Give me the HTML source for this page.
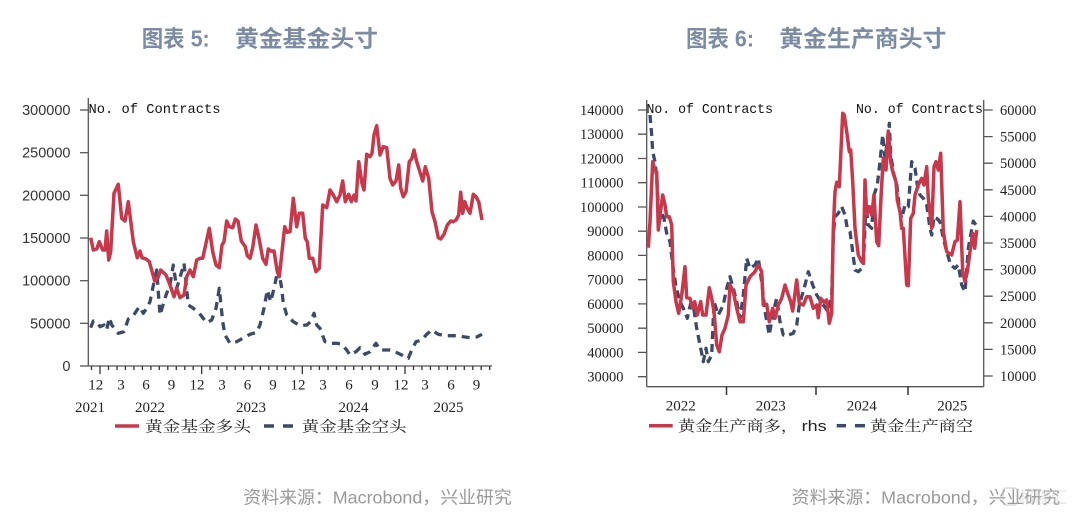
<!DOCTYPE html>
<html>
<head>
<meta charset="utf-8">
<style>
html,body{margin:0;padding:0;background:#fff;}
body{width:1080px;height:518px;overflow:hidden;}
svg{display:block;}
.ttl{font-family:"Liberation Sans","Noto Sans CJK SC",sans-serif;font-weight:bold;font-size:23px;fill:#7b8ca4;}
.ysans{font-family:"Liberation Sans",sans-serif;font-size:14.5px;fill:#333;}
.serif{font-family:"Liberation Serif",serif;font-size:15px;fill:#222;}
.serif14{font-family:"Liberation Serif",serif;font-size:14.5px;fill:#222;}
.mono{font-family:"Liberation Mono",monospace;font-size:13.8px;fill:#111;}
.leg{font-family:"Liberation Serif","Noto Serif CJK SC",serif;font-size:15px;fill:#222;}
.src{font-family:"Liberation Sans","Noto Sans CJK SC",sans-serif;font-size:17.5px;fill:#999;}
</style>
</head>
<body>
<svg width="1080" height="518" viewBox="0 0 1080 518" xmlns="http://www.w3.org/2000/svg">
<!-- Titles -->
<text class="ttl" x="141.7" y="46.5" textLength="68" lengthAdjust="spacingAndGlyphs">图表 5:</text>
<text class="ttl" x="235" y="46.5" textLength="143" lengthAdjust="spacingAndGlyphs">黄金基金头寸</text>
<text class="ttl" x="686" y="46.5" textLength="68" lengthAdjust="spacingAndGlyphs">图表 6:</text>
<text class="ttl" x="779.3" y="46.5" textLength="167" lengthAdjust="spacingAndGlyphs">黄金生产商头寸</text>

<!-- ============ LEFT CHART ============ -->
<g stroke="#555" stroke-width="1.3" fill="none">
  <line x1="88.3" y1="98" x2="88.3" y2="366"/>
  <line x1="88.3" y1="366" x2="492" y2="366"/>
  <!-- y ticks -->
  <line x1="80" y1="110" x2="88.3" y2="110"/>
  <line x1="80" y1="152.7" x2="88.3" y2="152.7"/>
  <line x1="80" y1="195.3" x2="88.3" y2="195.3"/>
  <line x1="80" y1="238" x2="88.3" y2="238"/>
  <line x1="80" y1="280.7" x2="88.3" y2="280.7"/>
  <line x1="80" y1="323.3" x2="88.3" y2="323.3"/>
  <line x1="80" y1="366" x2="88.3" y2="366"/>
</g>
<g stroke="#333" stroke-width="1.3">
  <!-- major ticks -->
  <line x1="100" y1="366" x2="100" y2="374"/>
  <line x1="201.7" y1="366" x2="201.7" y2="374"/>
  <line x1="302.3" y1="366" x2="302.3" y2="374"/>
  <line x1="405" y1="366" x2="405" y2="374"/>
  <!-- minor ticks -->
  <path d="M91.5 366v4 M108.5 366v4 M117 366v4 M125.4 366v4 M133.9 366v4 M142.4 366v4 M150.9 366v4 M159.3 366v4 M167.8 366v4 M176.3 366v4 M184.8 366v4 M193.2 366v4
  M210.1 366v4 M218.5 366v4 M226.9 366v4 M235.2 366v4 M243.6 366v4 M252 366v4 M260.4 366v4 M268.8 366v4 M277.1 366v4 M285.5 366v4 M293.9 366v4
  M310.9 366v4 M319.4 366v4 M328 366v4 M336.5 366v4 M345.1 366v4 M353.7 366v4 M362.2 366v4 M370.8 366v4 M379.3 366v4 M387.9 366v4 M396.4 366v4
  M413.5 366v4 M421.9 366v4 M430.4 366v4 M438.9 366v4 M447.4 366v4 M455.8 366v4 M464.3 366v4 M472.8 366v4 M481.2 366v4 M489.7 366v4" fill="none"/>
</g>
<g class="ysans" text-anchor="end">
  <text x="70.5" y="115">300000</text>
  <text x="70.5" y="157.7">250000</text>
  <text x="70.5" y="200.3">200000</text>
  <text x="70.5" y="243">150000</text>
  <text x="70.5" y="285.7">100000</text>
  <text x="70.5" y="328.3">50000</text>
  <text x="70.5" y="371">0</text>
</g>
<g class="serif" text-anchor="middle">
  <text x="95.7" y="389.5">12</text>
  <text x="121" y="389.5">3</text>
  <text x="146" y="389.5">6</text>
  <text x="171.5" y="389.5">9</text>
  <text x="197" y="389.5">12</text>
  <text x="222" y="389.5">3</text>
  <text x="247.5" y="389.5">6</text>
  <text x="273" y="389.5">9</text>
  <text x="298" y="389.5">12</text>
  <text x="323" y="389.5">3</text>
  <text x="349" y="389.5">6</text>
  <text x="375" y="389.5">9</text>
  <text x="401" y="389.5">12</text>
  <text x="425" y="389.5">3</text>
  <text x="451" y="389.5">6</text>
  <text x="476.5" y="389.5">9</text>
  <text x="90" y="412">2021</text>
  <text x="150" y="412">2022</text>
  <text x="251" y="412">2023</text>
  <text x="353.5" y="412">2024</text>
  <text x="448.5" y="412">2025</text>
</g>
<text class="mono" x="88.5" y="112.8" textLength="132" lengthAdjust="spacingAndGlyphs">No. of Contracts</text>

<polyline fill="none" stroke="#3c4a6a" stroke-width="3.3" stroke-dasharray="8,6" stroke-linejoin="round"
points="90.7,327.7 93.3,321 96.7,321.7 100,326.7 104,325 106.7,330 109.3,317.7 111.7,325 118.3,333.3 124,331.7 128.3,319 133.3,315.7 139.3,306.7 143.3,313.3 146.7,308.3 150,301.7 152.7,288.3 156.7,270 160,315 166,295 170,285 173.3,265 176.7,288.3 181.7,271.7 184,263.3 188.3,305 193.3,308.3 199.3,313.3 206.7,322.7 211.7,320 216,308.3 219.3,288.3 222.7,321.7 225,335 230,343.3 236.7,341.7 242.7,338.3 250,334.3 256.7,332.3 260,325 264,308.3 267.3,290 270.7,301.7 274,288.3 278.3,268.3 281.7,288.3 283.3,303.3 286.7,315 293.3,321.7 300,325.7 306.7,325 310.7,321.7 314,313.3 316.7,325 320,328.3 325,341.7 330,343.3 336.7,343.3 341.7,344.3 346.7,350 350,355 356,351.7 360,347.7 365,354.3 370,351.7 376,343.3 380,350 385,350 390,350 395,351.7 401.7,355 408.3,358.3 411.7,350 416,341.7 421.7,340 426.7,334.3 431.7,330 438.3,334.3 445,335.7 451.7,335.7 458.3,335.7 463.3,336.7 470,337.7 476.7,337 482,334.3"/>
<polyline fill="none" stroke="#c8374a" stroke-width="3.5" stroke-linejoin="round"
points="90.7,237.7 93.3,250 96.7,249 99.3,241.7 102.7,250 105,250 106.7,231 108.7,260 110.7,251.7 114,193.3 118.3,184.3 121.7,218.3 125,221 128.3,201.7 133.3,241.7 137.3,257.7 140,251 142,257.7 146,259 149.3,261.7 154.7,281 158,277.7 160.7,270 166,275 170,285 174,296.7 176.7,288.3 180,297.7 184,295 186.7,276.7 190,270 193.3,276.7 196.7,260 200,258.3 202.7,258.3 206,243.3 209.3,228.3 212.7,251.7 216,265 219.3,267.7 222,245 224,241.7 226.7,221 229.3,226.7 232.7,227.7 235.3,219 238,221 241.3,241 245.3,246.7 247.3,255.7 250,258.3 252.7,247.7 256,225 258.7,236.7 262.7,258.3 266,264.3 268.3,249 270.7,251 274,251 277.3,271.7 279.3,276.7 282,251.7 284.7,226.7 287.3,232.3 290,231.7 293.3,198.3 296.7,226.7 299.3,213.3 302.7,213.3 305.3,238.3 307.3,241.7 309.3,258.3 312.7,258.3 316,271.7 319.3,268.3 322.7,205 326.7,207.7 330,190 333.3,195 336.7,201.7 340,195 342.7,181 345.3,201.7 348.7,194.3 351.3,201.7 354,195 356,201 358.7,161.7 362,183.3 364,190 366.7,154.3 370,156.7 372,153.3 374,135 376.7,125.7 380,155 383.3,146.7 386.7,147.7 390,178.3 392.7,185 396,181 398.7,165 400.7,188.3 403.3,196.7 406,191.7 409.3,161.7 411.7,159 414,150 416.7,161.7 419.3,170 422.7,181 425.3,166.7 428.7,178.3 432,211.7 435,221.7 438.3,237.7 440.7,239 444,234.3 447.3,225 450.7,221 453.3,221.7 456,220 458.7,215 460.7,192.3 462.7,213.3 464.7,201.7 467.3,208.3 470,213.3 473.3,194.3 476,196.7 478.7,201.7 482,220"/>

<!-- left legend -->
<line x1="115" y1="426" x2="139" y2="426" stroke="#c8374a" stroke-width="3.5"/>
<text class="leg" x="145" y="431.5" textLength="106" lengthAdjust="spacingAndGlyphs">黄金基金多头</text>
<line x1="264" y1="426" x2="274" y2="426" stroke="#3c4a6a" stroke-width="3.5"/>
<line x1="283" y1="426" x2="293" y2="426" stroke="#3c4a6a" stroke-width="3.5"/>
<text class="leg" x="301.7" y="431.5" textLength="105" lengthAdjust="spacingAndGlyphs">黄金基金空头</text>

<!-- ============ RIGHT CHART ============ -->
<g stroke="#555" stroke-width="1.3" fill="none">
  <line x1="646.7" y1="100" x2="646.7" y2="386.7"/>
  <line x1="983.7" y1="100" x2="983.7" y2="386.7"/>
  <line x1="646.7" y1="386.7" x2="983.7" y2="386.7"/>
  <!-- left ticks -->
  <path d="M638 110h8.7 M638 134.2h8.7 M638 158.5h8.7 M638 182.7h8.7 M638 207h8.7 M638 231.2h8.7 M638 255.4h8.7 M638 279.7h8.7 M638 303.9h8.7 M638 328.2h8.7 M638 352.4h8.7 M638 376.7h8.7"/>
  <!-- right ticks -->
  <path d="M983.7 110h9 M983.7 136.6h9 M983.7 163.2h9 M983.7 189.8h9 M983.7 216.4h9 M983.7 243h9 M983.7 269.6h9 M983.7 296.2h9 M983.7 322.8h9 M983.7 349.4h9 M983.7 376h9"/>
</g>
<g stroke="#333" stroke-width="1.5">
  <line x1="726.5" y1="386.7" x2="726.5" y2="395"/>
  <line x1="816" y1="386.7" x2="816" y2="395"/>
  <line x1="908" y1="386.7" x2="908" y2="395"/>
</g>
<g class="serif14" text-anchor="end">
  <text x="623.5" y="115">140000</text>
  <text x="623.5" y="139.2">130000</text>
  <text x="623.5" y="163.5">120000</text>
  <text x="623.5" y="187.7">110000</text>
  <text x="623.5" y="212">100000</text>
  <text x="623.5" y="236.2">90000</text>
  <text x="623.5" y="260.4">80000</text>
  <text x="623.5" y="284.7">70000</text>
  <text x="623.5" y="308.9">60000</text>
  <text x="623.5" y="333.2">50000</text>
  <text x="623.5" y="357.4">40000</text>
  <text x="623.5" y="381.7">30000</text>
</g>
<g class="serif14" text-anchor="start">
  <text x="1000" y="115">60000</text>
  <text x="1000" y="141.6">55000</text>
  <text x="1000" y="168.2">50000</text>
  <text x="1000" y="194.8">45000</text>
  <text x="1000" y="221.4">40000</text>
  <text x="1000" y="248">35000</text>
  <text x="1000" y="274.6">30000</text>
  <text x="1000" y="301.2">25000</text>
  <text x="1000" y="327.8">20000</text>
  <text x="1000" y="354.4">15000</text>
  <text x="1000" y="381">10000</text>
</g>
<g class="serif" text-anchor="middle">
  <text x="680.7" y="410.5">2022</text>
  <text x="770.7" y="410.5">2023</text>
  <text x="861.7" y="410.5">2024</text>
  <text x="952.3" y="410.5">2025</text>
</g>
<text class="mono" x="646.5" y="113" textLength="126.5" lengthAdjust="spacingAndGlyphs">No. of Contracts</text>
<text class="mono" x="856" y="113" textLength="127" lengthAdjust="spacingAndGlyphs">No. of Contracts</text>

<polyline fill="none" stroke="#3c4a6a" stroke-width="3.3" stroke-dasharray="8,5" stroke-linejoin="round"
points="650,115 651.7,135 652.7,151.7 655,161.7 656.7,178.3 659.3,221.7 661.7,213.3 664,218.3 666.7,233.3 670,241.7 672.7,265 676,286.7 680,301.7 685,311.7 687.3,318.3 690.7,303.3 694,310 696.7,328.3 700.7,348.3 703.3,361.7 706,348.3 708.3,361.7 711.7,355 714,301.7 718.3,315 723.3,305 726.7,288.3 730,276.7 733.3,288.3 736.7,301.7 740,318.3 743.3,295 746.7,258.3 750,268.3 755,265 758.3,258.3 761.7,281.7 765,311.7 769.3,335 773.3,311.7 776.7,298.3 780,321.7 783.3,335 788.3,335 793.3,333.3 796.7,325 799.3,305 805,285 808.3,271.7 812.7,285 816.7,295 823.3,305 828.3,311.7 831.7,295 833.3,235 835,216.7 838.3,213.3 841.7,206.7 845,215 847.3,228.3 850,231.7 852.7,251.7 855,270 858.3,271.7 863.3,266.7 866,205 868.3,225 871.7,228.3 874,195 877.3,185 880,161.7 882.7,135 885,158.3 887.3,141.7 889.3,123.3 890.7,155 894,175 896.7,183.3 899.3,208.3 901.7,218.3 905,205 908.3,206.7 911.7,161.7 915,168.3 917.3,185 920,195 923.3,198.3 926.7,205 930,228.3 931.7,235 934,216.7 936.7,218.3 940,221.7 943.3,238.3 946.7,251.7 950.7,265 955,268.3 958.3,265 961.7,285 965,291.7 968.3,248.3 970.7,235 973.3,221 976,225"/>
<polyline fill="none" stroke="#c8374a" stroke-width="3.5" stroke-linejoin="round"
points="648.3,247.7 650,221.7 652.7,161.7 655,170 656.7,171.7 658.3,230 660,215 662.7,195 665,205 666.7,216.7 669.3,216.7 671.7,225 673.3,281.7 676,301.7 678.7,313.3 681.7,295 685,266.7 686.7,297.7 690,298.3 692.7,308.3 694.7,301.7 697.3,315 700.7,301.7 702.7,315 706,315 709.3,287.7 711.7,298.3 714,311.7 716.7,345 719.3,351.7 722,335 725,328.3 728.3,315 730,285 733.3,291.7 736.7,308.3 740,321.7 743.3,321.7 746,285 750,276.7 755,271.7 758.3,265 761.7,271.7 763.3,305 766.7,304.3 769.3,321.7 772.7,308.3 775,318.3 778.3,305 781.7,298.3 785,285 788.3,295 790.7,301.7 792.7,311 796.7,280 799.3,303.3 803.3,305 806.7,296.7 810,296.7 813.3,308.3 816.7,305 818.3,317.7 820.7,298.3 824,302.3 826.7,300 829.3,323.3 831.7,313.3 833.3,228.3 835,191.7 836.7,182.3 839.3,186.7 841.7,135 842.7,113.3 844.3,115 846.7,131.7 849.3,151.7 850.7,150 852.7,181.7 855,228.3 858.3,255 861.7,261.7 863.3,263.3 865,180 866.7,215 869.3,206.7 871.7,215 874,195 876.7,241.7 878.7,245.7 881.3,191.7 883.3,158.3 886,170 888.3,131 890.7,161.7 892.7,171.7 896,181.7 897.3,200 900,211.7 901.7,228.3 903.3,228.3 906.7,285 908.3,285.7 910.7,218.3 913.3,213.3 915,195 918.3,185 921.7,178.3 924,185 926.7,166.7 928.3,198.3 931.7,228.3 934,166.7 936,161.7 938.3,170 940.7,153.3 943.3,231.7 946.7,251.7 951.7,255 955,241.7 957.3,240 960,201.7 962.7,271.7 965,281.7 967.3,271.7 970,251.7 972.7,233.3 974.7,248.3 976.7,230"/>

<!-- right legend -->
<line x1="649" y1="425.7" x2="672.7" y2="425.7" stroke="#c8374a" stroke-width="3.5"/>
<text class="leg" x="678" y="431.2" textLength="120" lengthAdjust="spacingAndGlyphs">黄金生产商多，</text>
<text x="801.7" y="431.2" font-family="Liberation Sans, sans-serif" font-size="15" fill="#222" textLength="25" lengthAdjust="spacingAndGlyphs">rhs</text>
<line x1="836.7" y1="425.7" x2="846" y2="425.7" stroke="#3c4a6a" stroke-width="3.5"/>
<line x1="855" y1="425.7" x2="865" y2="425.7" stroke="#3c4a6a" stroke-width="3.5"/>
<text class="leg" x="870" y="431.2" textLength="103" lengthAdjust="spacingAndGlyphs">黄金生产商空</text>

<!-- sources -->
<text class="src" x="243.3" y="503.5" textLength="268.5" lengthAdjust="spacingAndGlyphs">资料来源：Macrobond，兴业研究</text>
<text class="src" x="791.7" y="503.5" textLength="268.5" lengthAdjust="spacingAndGlyphs">资料来源：Macrobond，兴业研究</text>
<!-- watermark -->
<g opacity="0.55">
  <rect x="1003" y="488" width="14" height="17" rx="3" fill="none" stroke="#bbb" stroke-width="1.5"/>
  <text x="1019" y="503" font-family="Noto Sans CJK SC, sans-serif" font-size="16" fill="#ccc">格隆汇</text>
</g>
</svg>
</body>
</html>
